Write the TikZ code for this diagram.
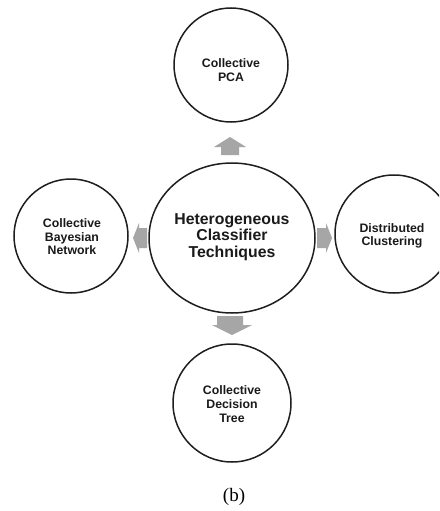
\documentclass[tikz,border=0pt]{standalone}
\usepackage{fontspec}
\setmainfont{Liberation Sans}
\newfontfamily\capfont{Liberation Serif}
\usetikzlibrary{shapes.geometric}
\definecolor{arrowgray}{HTML}{A6A6A6}
\definecolor{ringline}{HTML}{1E1E1E}
\definecolor{labelink}{HTML}{1A1A1A}
\tikzset{
  ring/.style={draw=ringline, line width=1.5pt, fill=white},
  smalllabel/.style={align=center, text=labelink, font=\bfseries\fontsize{12.3}{13.6}\selectfont, inner sep=0pt},
  biglabel/.style={align=center, text=labelink, font=\bfseries\fontsize{15.8}{16.6}\selectfont, inner sep=0pt},
  blockarrow/.style={fill=arrowgray, draw=none}
}
\begin{document}
\begin{tikzpicture}[x=1pt, y=-1pt]
  \useasboundingbox (0,0) rectangle (439,511);
  \clip (0,0) rectangle (439,511);
  \fill[white] (0,0) rectangle (439,511);

  % block arrows from the hub outwards
  \fill[blockarrow] (230,137) -- (246,147) -- (239,147) -- (239,155) -- (221,155) -- (221,147) -- (214,147) -- cycle;
  \fill[blockarrow] (232,335) -- (252,325) -- (243,325) -- (243,316) -- (217,316) -- (217,325) -- (212,325) -- cycle;
  \fill[blockarrow] (133,238) -- (139,223) -- (139,228) -- (147,228) -- (147,248) -- (139,248) -- (139,253) -- cycle;
  \fill[blockarrow] (332,238) -- (326,223) -- (326,228) -- (317,228) -- (317,248) -- (326,248) -- (326,253) -- cycle;

  % hub
  \draw[ring] (232,238) ellipse [x radius=83, y radius=75];
  \node[biglabel] (hub) at (232,237) {Heterogeneous\\Classifier\\Techniques};

  % satellites
  \draw[ring] (231,65) circle [radius=57];
  \node[smalllabel] (pca) at (231,70) {Collective\\PCA};

  \draw[ring] (71,236) circle [radius=57];
  \node[smalllabel] (bayes) at (72,237) {Collective\\Bayesian\\Network};

  \draw[ring] (394,234) circle [radius=59];
  \node[smalllabel] (clust) at (392,236) {Distributed\\Clustering};

  \draw[ring] (232,403) circle [radius=59];
  \node[smalllabel] (tree) at (232,404) {Collective\\Decision\\Tree};

  \node[font=\capfont\fontsize{19}{21}\selectfont, inner sep=0pt] (cap) at (234,497) {(b)};
\end{tikzpicture}
\end{document}
